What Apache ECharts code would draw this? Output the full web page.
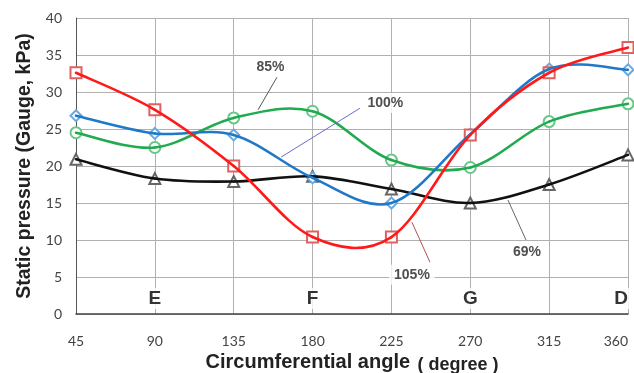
<!DOCTYPE html>
<html>
<head>
<meta charset="utf-8">
<script src="https://cdn.jsdelivr.net/npm/echarts@6/dist/echarts.min.js"></script>
<style>
  html, body { margin: 0; padding: 0; background: #fff; }
  #chart { width: 634px; height: 373px; }
</style>
</head>
<body>
<div id="chart"></div>
<script>
// Circumferential positions (degrees)
const angles = [45, 90, 135, 180, 225, 270, 315, 360];

// Static pressure (gauge, kPa) for each flow rate
const p69  = [20.9, 18.3, 17.9, 18.6, 16.9, 15.0, 17.5, 21.5];
const p85  = [24.5, 22.5, 26.5, 27.4, 20.8, 19.8, 26.0, 28.4];
const p100 = [26.8, 24.4, 24.2, 18.4, 15.0, 24.3, 33.1, 33.0];
const p105 = [32.6, 27.6, 20.0, 10.4, 10.4, 24.2, 32.6, 36.0];

// Station letters along the bottom of the plot
const stationNames = ['E', 'F', 'G', 'D'];
const stationAngles = [90, 180, 270, 360];
const stationLevel = 2.1;

// Leader lines for the curve labels: [start, end] in data units, plus text anchor
const leaders = {
  '69%':  { from: [301.8, 10.0], to: [291.5, 15.4], text: [302.4, 8.4], color: '#666666' },
  '85%':  { from: [159.7, 32.0], to: [148.9, 27.6], text: [156.0, 33.4], color: '#555555' },
  '100%': { from: [207.0, 27.8], to: [162.0, 21.2], text: [221.5, 28.5], color: '#6a6ad0' },
  '105%': { from: [247.0, 7.0],  to: [236.7, 12.4], text: [236.7, 5.3], color: '#b05050' }
};

function zip(xs, ys) { return xs.map((x, i) => [x, ys[i]]); }

// Smoothed curve (Catmull-Rom style cubic segments) drawn through the axis scales
function smoothCurve(name, values, color) {
  const n = angles.length;
  return {
    name: name + ' curve',
    type: 'custom',
    z: 4,
    silent: true,
    data: zip(angles, values).slice(0, n - 1),
    renderItem: function (params, api) {
      const i = params.dataIndex;
      const clampIdx = k => Math.max(0, Math.min(n - 1, k));
      const pt = k => api.coord([angles[clampIdx(k)], values[clampIdx(k)]]);
      const p0 = pt(i - 1), p1 = pt(i), p2 = pt(i + 1), p3 = pt(i + 2);
      const t = 1 / 6;
      return {
        type: 'bezierCurve',
        shape: {
          x1: p1[0], y1: p1[1],
          cpx1: p1[0] + (p2[0] - p0[0]) * t, cpy1: p1[1] + (p2[1] - p0[1]) * t,
          cpx2: p2[0] - (p3[0] - p1[0]) * t, cpy2: p2[1] - (p3[1] - p1[1]) * t,
          x2: p2[0], y2: p2[1]
        },
        style: { stroke: color, lineWidth: 2.6, fill: null, lineCap: 'round' }
      };
    }
  };
}

// Hollow markers at each measured point, plus the leader line for the curve label
function markers(name, values, color, symbol) {
  const lead = leaders[name];
  return {
    name: name,
    type: 'line',
    data: zip(angles, values),
    symbol: symbol,
    symbolSize: 11,
    showAllSymbol: true,
    lineStyle: { width: 0, opacity: 0 },
    itemStyle: { color: color, borderColor: color, borderWidth: 1 },
    z: 3,
    markLine: {
      silent: true,
      symbol: 'none',
      animation: false,
      lineStyle: { color: lead.color, width: 1, type: 'solid' },
      label: { show: false },
      data: [[{ coord: lead.from }, { coord: lead.to }]]
    }
  };
}

const noteData = Object.keys(leaders).map(k => ({ value: leaders[k].text, name: k }));
const stationData = stationNames.map((n, i) => ({ value: [stationAngles[i], stationLevel], name: n }));

const chart = echarts.init(document.getElementById('chart'));
chart.setOption({
  animation: false,
  backgroundColor: '#ffffff',
  grid: { left: 76, right: 6, top: 18, bottom: 59, containLabel: false, outerBoundsMode: 'none' },
  xAxis: {
    type: 'value',
    min: 45, max: 360, interval: 45,
    name: '{a|Circumferential angle} {b|( degree )}',
    nameLocation: 'middle',
    nameGap: 34,
    nameTextStyle: {
      rich: {
        a: { fontFamily: 'Liberation Sans, Arial, sans-serif', fontWeight: 'bold', fontSize: 20, color: '#222' },
        b: { fontFamily: 'Liberation Sans, Arial, sans-serif', fontWeight: 'bold', fontSize: 18, color: '#222', padding: [5, 0, 0, 4] }
      }
    },
    axisLine: { show: true, onZero: false, lineStyle: { color: '#444', width: 1.5 } },
    axisTick: { show: false },
    axisLabel: { margin: 20, fontSize: 14, color: '#444', fontFamily: 'Lato, Open Sans, sans-serif', alignMaxLabel: 'right' },
    splitLine: { show: true, lineStyle: { color: '#b0b0b0', width: 1 } }
  },
  yAxis: {
    type: 'value',
    min: 0, max: 40, interval: 5,
    name: 'Static pressure (Gauge, kPa)',
    nameLocation: 'middle',
    nameGap: 40,
    nameTextStyle: { fontFamily: 'Liberation Sans, Arial, sans-serif', fontWeight: 'bold', fontSize: 19.5, color: '#222' },
    axisLine: { show: true, lineStyle: { color: '#555', width: 1 } },
    axisTick: { show: false },
    axisLabel: { margin: 14, fontSize: 14, color: '#444', fontFamily: 'Lato, Open Sans, sans-serif' },
    splitLine: { show: true, lineStyle: { color: '#b0b0b0', width: 1 } }
  },
  series: [
    smoothCurve('69%', p69, '#111111'),
    smoothCurve('85%', p85, '#22aa50'),
    smoothCurve('100%', p100, '#1f78c8'),
    smoothCurve('105%', p105, '#ff1a1a'),
    markers('69%', p69, '#666666', 'emptyTriangle'),
    markers('85%', p85, '#66c888', 'emptyCircle'),
    markers('100%', p100, '#6aaae0', 'emptyDiamond'),
    markers('105%', p105, '#e06060', 'emptyRect'),
    {
      name: 'stations',
      type: 'scatter',
      symbolSize: 0,
      data: stationData,
      z: 2,
      label: {
        show: true,
        position: 'inside',
        formatter: p => p.name,
        fontFamily: 'Liberation Sans, Arial, sans-serif',
        fontWeight: 'bold',
        fontSize: 19,
        color: '#000',
        backgroundColor: '#fff',
        padding: [1, 3]
      },
      labelLayout: p => (p.dataIndex === 3 ? { dx: -7 } : {})
    },
    {
      name: 'notes',
      type: 'scatter',
      symbolSize: 0,
      data: noteData,
      z: 5,
      label: {
        show: true,
        position: 'inside',
        formatter: p => p.name,
        fontFamily: 'Liberation Sans, Arial, sans-serif',
        fontWeight: 'bold',
        fontSize: 14,
        color: '#222',
        backgroundColor: '#fff',
        padding: [3, 5]
      }
    }
  ]
});
</script>
</body>
</html>
